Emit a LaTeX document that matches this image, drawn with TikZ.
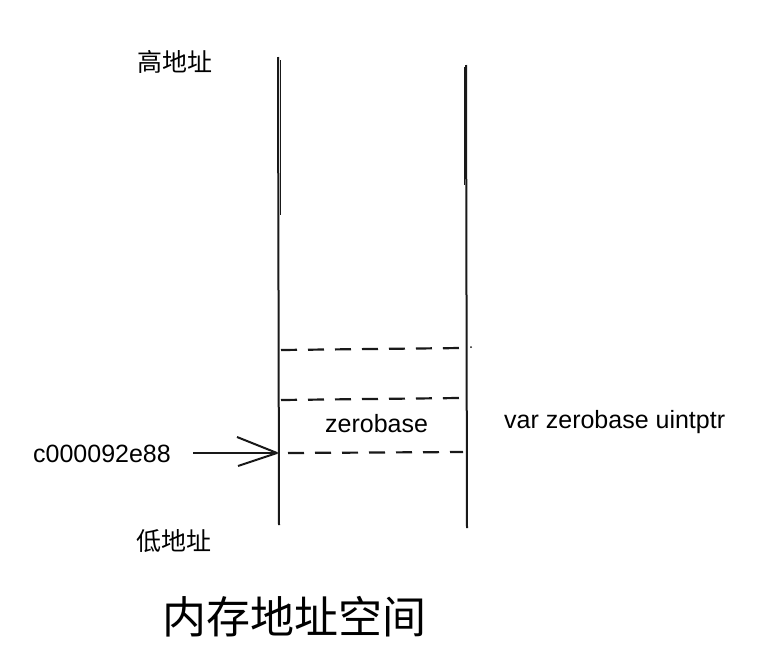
\documentclass[tikz,border=0pt]{standalone}
\usepackage{fontspec}
\setmainfont{Liberation Sans}
\newfontfamily\cjk{Noto Sans CJK SC}
\begin{document}
\begin{tikzpicture}[x=1pt,y=-1pt,
  wall/.style={line width=2pt,black!90},
  dashline/.style={line width=2.2pt,dash pattern=on 16pt off 11pt,black!90},
  lbl/.style={inner sep=0pt,font=\fontsize{25}{30}\selectfont},
  cjklbl/.style={inner sep=0pt,font=\cjk\fontsize{25}{30}\selectfont},
  titlelbl/.style={inner sep=0pt,font=\cjk\fontsize{44}{50}\selectfont},
  ptr/.style={line width=2pt,black!90}]
\useasboundingbox (0,0) rectangle (772,664);
% walls
\coordinate (lt) at (278,57);
\coordinate (lb) at (279,525);
\coordinate (rt) at (466,65);
\coordinate (rb) at (467,528);
\draw[wall] (lt) -- (lb);
\draw[wall,line width=1.2pt] (280.8,60) -- (280.8,215);
\draw[wall] (rt) -- (rb);
\draw[wall,line width=1.2pt] (464.3,67) -- (464.3,185);
% dashed lines
\coordinate (d1l) at (281,350);
\coordinate (d1r) at (462,348);
\coordinate (d2l) at (281,400);
\coordinate (d2r) at (460,398);
\coordinate (d3l) at (288,453);
\coordinate (d3r) at (463,452);
\draw[dashline] (d1l) -- (d1r);
\draw[dashline] (d2l) -- (d2r);
\draw[dashline] (d3l) -- (d3r);
\fill[black!90] (471,347) circle (1pt);
% texts
\node[cjklbl] (hi) at (175,62) {高地址};
\node[cjklbl] (lo) at (174,541) {低地址};
\node[titlelbl] (title) at (294,617) {内存地址空间};
\node[lbl,anchor=base west] (zb) at (325,432) {zerobase};
\node[lbl,anchor=base west] (var) at (504,428) {var zerobase uintptr};
\node[lbl,anchor=base west] (addr) at (33,462) {c000092e88};
% pointer arrow
\coordinate (tip) at (277,453);
\coordinate (tail) at (193,453);
\draw[ptr] (tail) -- (tip);
\draw[ptr,line join=round] (237,437) -- (tip) -- (238,466);
\end{tikzpicture}
\end{document}
